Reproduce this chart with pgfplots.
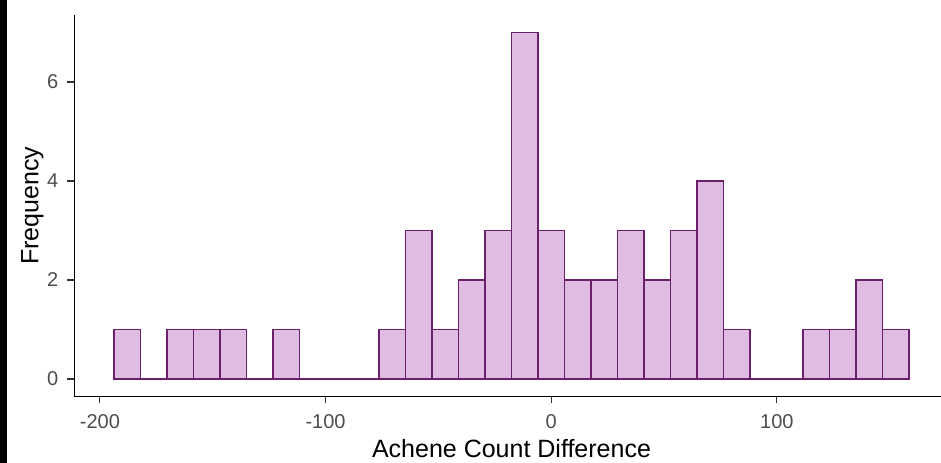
\documentclass[border=0pt]{standalone}
\usepackage{fontspec}
\setmainfont{Liberation Sans}
\usepackage{pgfplots}
\pgfplotsset{compat=1.18}
\definecolor{barfill}{RGB}{223,189,226}
\definecolor{bardraw}{RGB}{108,32,108}
\definecolor{tickgray}{RGB}{77,77,77}
\definecolor{tickline}{RGB}{51,51,51}
\begin{document}
\begin{tikzpicture}
\useasboundingbox (0,0) rectangle (470.5bp,231.5bp);
\clip (0,0) rectangle (470.5bp,231.5bp);
\fill[black] (0,0) rectangle (3.5bp,231.5bp);
\begin{axis}[
  at={(37.2bp,33.35bp)}, anchor=south west,
  scale only axis, width=437.1bp, height=190.55bp,
  xmin=-211.3, xmax=176.1, ymin=-0.35, ymax=7.35,
  axis x line=bottom, axis y line=left,
  axis line style={-, line width=0.8bp, black},
  xtick={-200,-100,0,100}, xticklabels={-200,-100,0,100},
  ytick={0,2,4,6}, yticklabels={0,2,4,6},
  tick align=outside, major tick length=3.5bp,
  tick style={line width=0.6bp, tickline},
  ticklabel style={font=\fontsize{10bp}{12bp}\selectfont, text=tickgray},
  xticklabel style={anchor=base, yshift=-12.5bp},
  yticklabel style={anchor=east, xshift=-1bp},
  xlabel={Achene Count Difference},
  ylabel={Frequency},
  label style={font=\fontsize{12.5bp}{15bp}\selectfont, text=black},
  xlabel style={at={(axis description cs:0.5,-0.1593)}, anchor=base},
  ylabel style={at={(axis description cs:-0.0413,0.5)}, anchor=base, rotate=0},
  clip=false,
]
\addplot[ybar interval, fill=barfill, draw=bardraw, line width=0.85bp] coordinates {
(-193.70,1) (-181.96,0) (-170.22,1) (-158.48,1) (-146.74,1) (-135.00,0)
(-123.26,1) (-111.52,0) (-99.78,0) (-88.04,0) (-76.30,1) (-64.56,3)
(-52.82,1) (-41.08,2) (-29.34,3) (-17.60,7) (-5.86,3) (5.88,2)
(17.62,2) (29.36,3) (41.10,2) (52.84,3) (64.58,4) (76.32,1)
(88.06,0) (99.80,0) (111.54,1) (123.28,1) (135.02,2) (146.76,1)
(158.50,1)
};
\end{axis}
\end{tikzpicture}
\end{document}
